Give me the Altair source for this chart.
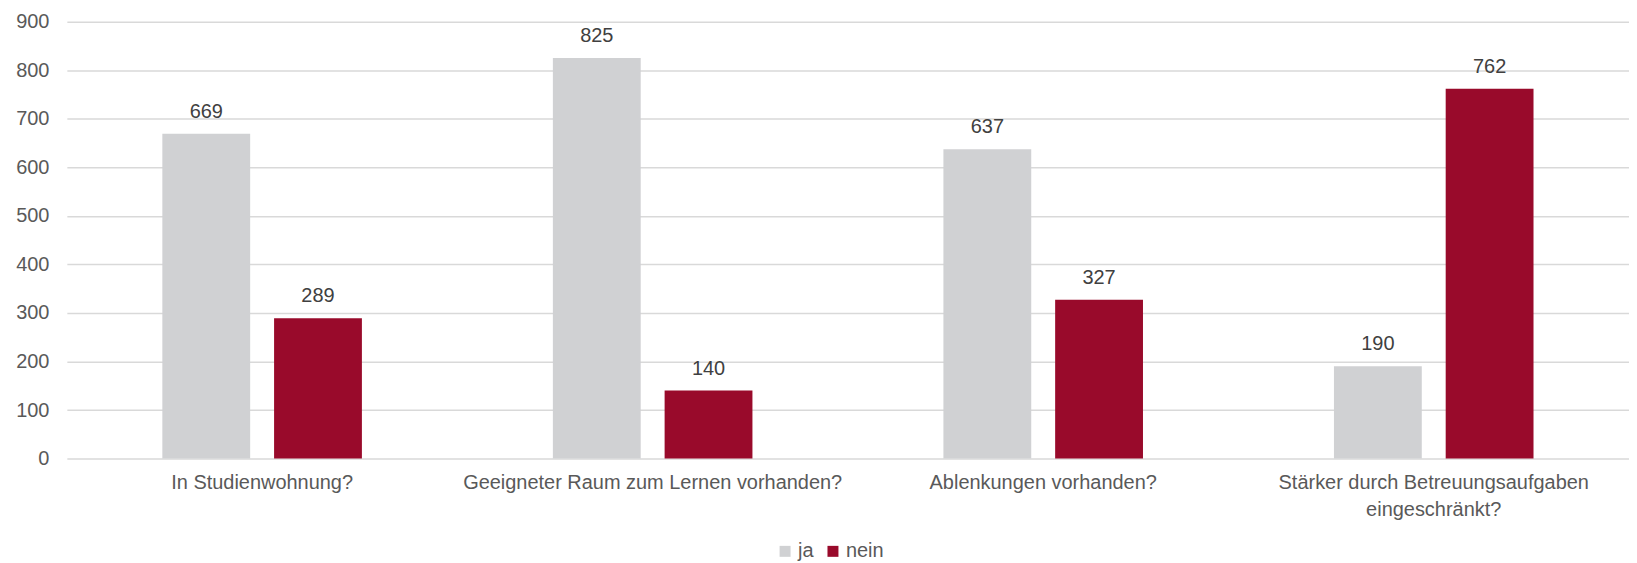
import altair as alt
import pandas as pd

categories = [
    "In Studienwohnung?",
    "Geeigneter Raum zum Lernen vorhanden?",
    "Ablenkungen vorhanden?",
    "Stärker durch Betreuungsaufgaben\neingeschränkt?",
]
series = ["ja", "nein"]
ja_values = [669, 825, 637, 190]
nein_values = [289, 140, 327, 762]
colors = ["#D0D1D3", "#990A2B"]
y_ticks = [0, 100, 200, 300, 400, 500, 600, 700, 800, 900]

rows = []
for c, j, n in zip(categories, ja_values, nein_values):
    rows.append({"Frage": c, "Antwort": "ja", "Anzahl": j})
    rows.append({"Frage": c, "Antwort": "nein", "Anzahl": n})
df = pd.DataFrame(rows)

FONT = "Liberation Sans"
TXT = "#595959"

base = alt.Chart(df).encode(
    x=alt.X(
        "Frage:N",
        sort=categories,
        title=None,
        scale=alt.Scale(paddingInner=0.489, paddingOuter=0.2445),
        axis=alt.Axis(
            labelAngle=0,
            labelExpr="split(datum.label, '\\n')",
            labelFont=FONT,
            labelFontSize=20,
            labelColor=TXT,
            labelPadding=14,
            labelLineHeight=27,
            labelLimit=1000,
            ticks=False,
            domain=False,
            labelBaseline="top",
        ),
    ),
    xOffset=alt.XOffset("Antwort:N", sort=series, scale=alt.Scale(paddingInner=0.214, paddingOuter=0)),
    y=alt.Y(
        "Anzahl:Q",
        title=None,
        scale=alt.Scale(domain=[0, 900], nice=False),
        axis=alt.Axis(
            values=y_ticks,
            labelFont=FONT,
            labelFontSize=20,
            labelColor=TXT,
            labelPadding=18,
            ticks=False,
            domain=False,
            grid=True,
            gridColor="#D9D9D9",
            gridWidth=1.5,
        ),
    ),
)

bars = base.mark_bar().encode(
    color=alt.Color(
        "Antwort:N",
        sort=series,
        scale=alt.Scale(domain=series, range=colors),
        legend=alt.Legend(
            title=None,
            orient="none",
            direction="horizontal",
            legendX=710,
            legendY=521,
            symbolType="square",
            symbolSize=121,
            symbolStrokeWidth=0,
            labelFont=FONT,
            labelFontSize=20,
            labelColor=TXT,
            labelOffset=3,
            columnPadding=9,
        ),
    )
)

labels = base.mark_text(
    baseline="alphabetic", dy=-16, font=FONT, fontSize=20, color="#404040"
).encode(text="Anzahl:Q")

chart = (
    (bars + labels)
    .properties(
        width=1566,
        height=438,
        autosize=alt.AutoSizeParams(type="none"),
        padding={"left": 59, "top": 13, "right": 0, "bottom": 104},
    )
    .configure_view(stroke=None)
)

chart.save("out.html", embed_options={"renderer": "svg", "actions": False})
